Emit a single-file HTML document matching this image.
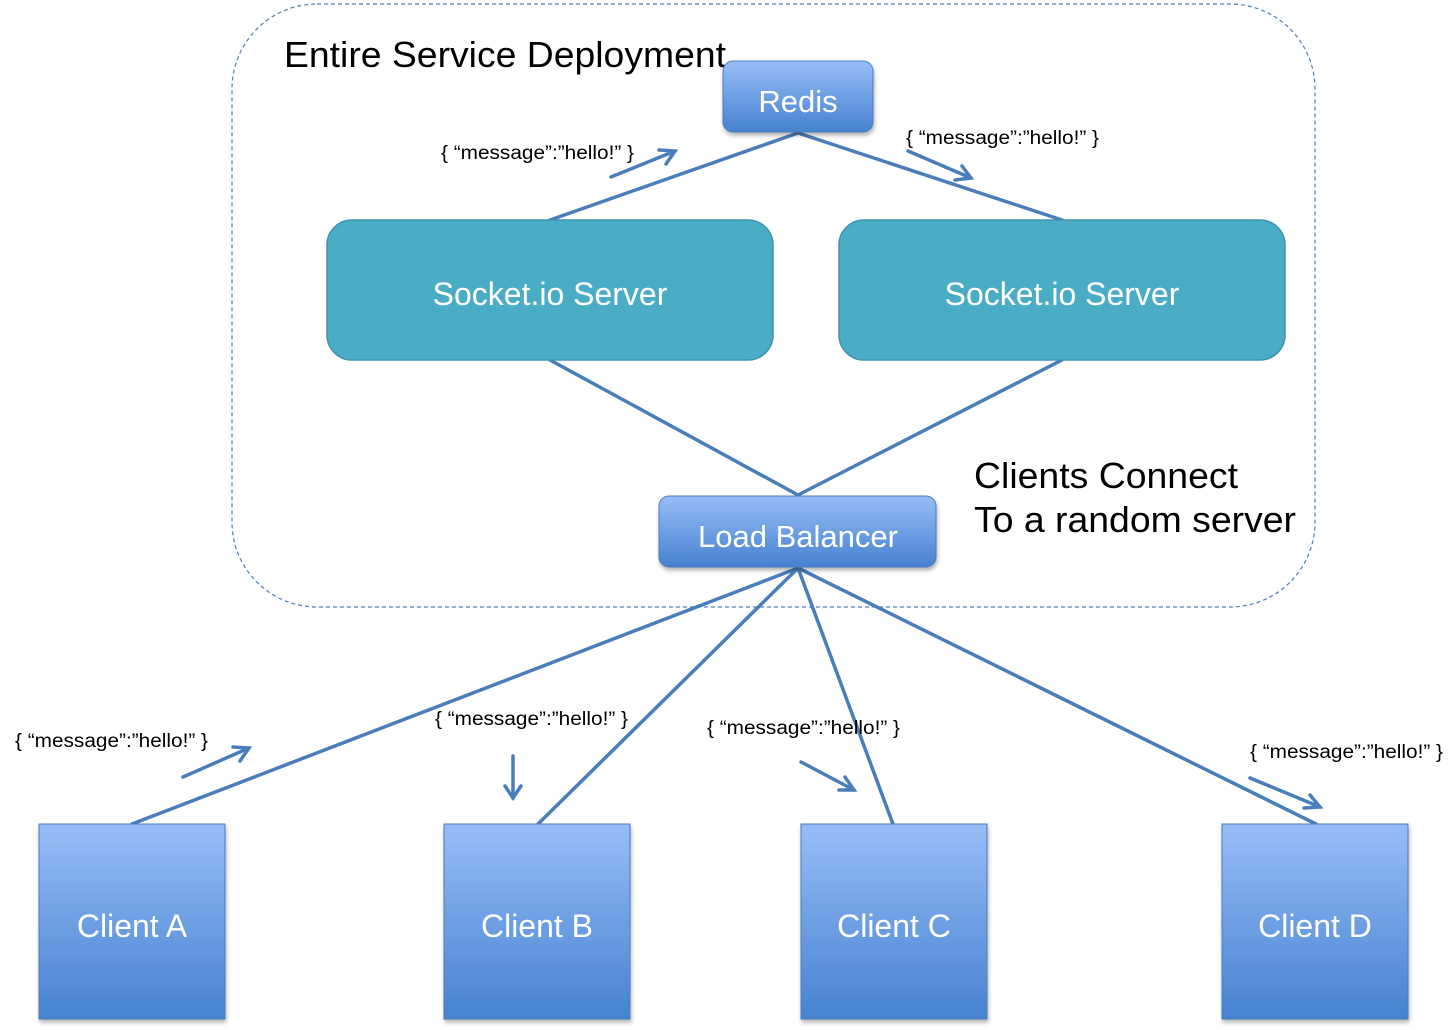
<!DOCTYPE html>
<html><head><meta charset="utf-8"><style>
html,body{margin:0;padding:0;background:#fff;}
svg{display:block;}
</style></head><body>
<svg width="1453" height="1030" viewBox="0 0 1453 1030" xmlns="http://www.w3.org/2000/svg" font-family="Liberation Sans, Arial, sans-serif">
<defs>
<linearGradient id="g" x1="0" y1="0" x2="0" y2="1">
<stop offset="0" stop-color="#97bdf7"/><stop offset="1" stop-color="#4682d0"/>
</linearGradient>
<filter id="sh" x="-10%" y="-10%" width="130%" height="130%"><feDropShadow dx="1" dy="3" stdDeviation="2" flood-color="#000" flood-opacity="0.3"/></filter>
</defs>
<rect x="232" y="4" width="1083" height="603" rx="85" fill="none" stroke="#4a7ebb" stroke-width="1.2" stroke-dasharray="4,3"/>
<text x="284" y="67" font-size="36" fill="#000" textLength="442" lengthAdjust="spacingAndGlyphs">Entire Service Deployment</text>
<text x="974" y="488" font-size="36" fill="#000" textLength="264" lengthAdjust="spacingAndGlyphs">Clients Connect</text>
<text x="974" y="532" font-size="36" fill="#000" textLength="322" lengthAdjust="spacingAndGlyphs">To a random server</text>

<g stroke="#4a7ebb" stroke-width="3.5" fill="none" stroke-linecap="round">
<line x1="798" y1="133" x2="550" y2="220"/>
<line x1="798" y1="133" x2="1062" y2="220"/>
<line x1="550" y1="360" x2="798" y2="495"/>
<line x1="1062" y1="360" x2="798" y2="495"/>
<line x1="798" y1="568" x2="132" y2="824"/>
<line x1="798" y1="568" x2="538" y2="824"/>
<line x1="798" y1="568" x2="893" y2="824"/>
<line x1="798" y1="568" x2="1316" y2="824"/>
<line x1="611" y1="177" x2="675" y2="151"/><polyline points="659,150 675,151 666,164"/>
<line x1="908" y1="151" x2="971" y2="178"/><polyline points="962,166 971,178 955,180"/>
<line x1="183" y1="777" x2="249" y2="748"/><polyline points="233,747 249,748 240,761"/>
<line x1="513" y1="756" x2="513" y2="798"/><polyline points="505,786 513,798 521,786"/>
<line x1="801" y1="762" x2="854" y2="790"/><polyline points="845,777 854,790 839,790"/>
<line x1="1250" y1="778" x2="1320" y2="807"/><polyline points="1310,795 1320,807 1304,808"/>
</g>

<rect x="723" y="61" width="150" height="71" rx="10" fill="url(#g)" stroke="#4a7ebb" filter="url(#sh)"/>
<text x="798" y="112" font-size="31" fill="#fff" text-anchor="middle">Redis</text>
<rect x="327" y="220" width="446" height="140" rx="25" fill="#4bacc6" stroke="#3f93b0" stroke-width="1.5"/>
<text x="550" y="305" font-size="32" fill="#fff" text-anchor="middle">Socket.io Server</text>
<rect x="839" y="220" width="446" height="140" rx="25" fill="#4bacc6" stroke="#3f93b0" stroke-width="1.5"/>
<text x="1062" y="305" font-size="32" fill="#fff" text-anchor="middle">Socket.io Server</text>
<rect x="659" y="496" width="277" height="71" rx="10" fill="url(#g)" stroke="#4a7ebb" filter="url(#sh)"/>
<text x="798" y="547" font-size="31" fill="#fff" text-anchor="middle">Load Balancer</text>

<g filter="url(#sh)" stroke="#4a7ebb">
<rect x="39" y="824" width="186" height="195" fill="url(#g)"/>
<rect x="444" y="824" width="186" height="195" fill="url(#g)"/>
<rect x="801" y="824" width="186" height="195" fill="url(#g)"/>
<rect x="1222" y="824" width="186" height="195" fill="url(#g)"/>
</g>
<g font-size="32" fill="#fff" text-anchor="middle">
<text x="132" y="937">Client A</text>
<text x="537" y="937">Client B</text>
<text x="894" y="937">Client C</text>
<text x="1315" y="937">Client D</text>
</g>
<g font-size="19" fill="#000">
<text x="441" y="159" textLength="193" lengthAdjust="spacingAndGlyphs">{ “message”:”hello!” }</text>
<text x="906" y="144" textLength="193" lengthAdjust="spacingAndGlyphs">{ “message”:”hello!” }</text>
<text x="15" y="747" textLength="193" lengthAdjust="spacingAndGlyphs">{ “message”:”hello!” }</text>
<text x="435" y="725" textLength="193" lengthAdjust="spacingAndGlyphs">{ “message”:”hello!” }</text>
<text x="707" y="734" textLength="193" lengthAdjust="spacingAndGlyphs">{ “message”:”hello!” }</text>
<text x="1250" y="758" textLength="193" lengthAdjust="spacingAndGlyphs">{ “message”:”hello!” }</text>
</g>
</svg>
</body></html>
